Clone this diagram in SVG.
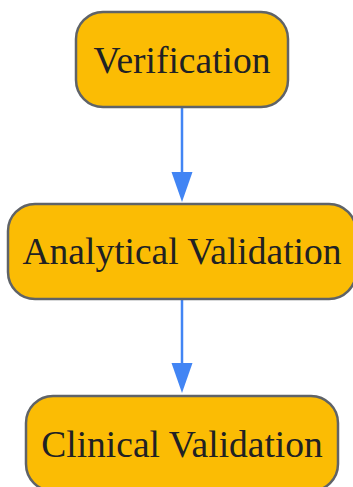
<svg xmlns="http://www.w3.org/2000/svg" width="353" height="487" viewBox="0 0 353 487">
<style>
.node rect{fill:#FBBC04;stroke:#5f6368;stroke-width:2.5}
.node text{font-family:"Liberation Serif",serif;font-size:37.5px;fill:#202124;text-anchor:middle}
.edge{stroke:#4285F4;stroke-width:2.5;fill:none}
.head{fill:#4285F4}
</style>
<rect width="353" height="487" fill="#ffffff"/>
<g id="connectors">
<line class="edge" x1="182" y1="108" x2="182" y2="174"/>
<polygon class="head" points="171.5,172 192.5,172 182,202"/>
<line class="edge" x1="182" y1="299" x2="182" y2="366"/>
<polygon class="head" points="171.5,363 192.5,363 182,393"/>
</g>
<g id="verification" class="node">
<rect x="76" y="12" width="212" height="95" rx="27" ry="27"/>
<text x="182" y="73">Verification</text>
</g>
<g id="analytical-validation" class="node">
<rect x="8" y="204" width="348" height="95" rx="27" ry="27"/>
<text x="182" y="264">Analytical Validation</text>
</g>
<g id="clinical-validation" class="node">
<rect x="26" y="396" width="312" height="95" rx="27" ry="27"/>
<text x="182" y="457">Clinical Validation</text>
</g>
</svg>
